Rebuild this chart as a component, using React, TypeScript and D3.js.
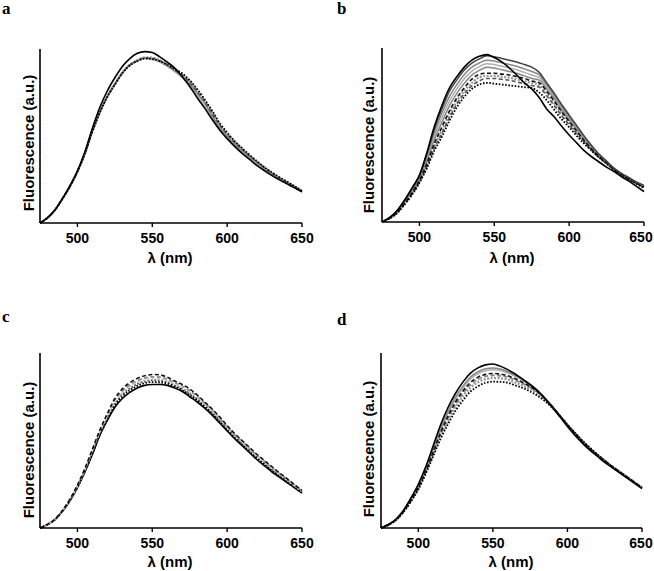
import React from "react";
import * as d3 from "d3";

const wavelengths = [475,480,485,490,495,500,505,510,515,520,525,530,535,540,545,550,555,560,565,570,575,580,585,590,595,600,605,610,615,620,625,630,635,640,645,650];
const xTicks = [500, 550, 600, 650];
const panelLetters = ["a", "b", "c", "d"];

// Panel a
const a1 = [0,.03,.075,.14,.215,.30,.41,.545,.665,.76,.835,.90,.945,.975,.985,.98,.955,.925,.89,.84,.785,.72,.66,.595,.535,.485,.44,.40,.365,.33,.30,.272,.248,.225,.202,.18];
const a2 = [0,.03,.075,.14,.21,.295,.40,.53,.64,.73,.80,.865,.91,.935,.95,.945,.93,.905,.875,.845,.80,.745,.69,.615,.55,.50,.455,.415,.38,.345,.31,.28,.255,.23,.205,.18];
const a3 = [0,.03,.074,.138,.208,.292,.396,.525,.635,.725,.795,.86,.905,.93,.945,.94,.925,.90,.87,.835,.79,.735,.675,.605,.545,.495,.45,.41,.375,.34,.307,.278,.253,.228,.203,.178];
const a4 = [0,.03,.075,.14,.21,.295,.40,.528,.637,.727,.797,.862,.907,.932,.948,.945,.932,.908,.88,.85,.807,.755,.70,.628,.563,.51,.463,.423,.386,.35,.316,.285,.259,.234,.208,.183];
const a5 = [0,.03,.075,.14,.21,.295,.40,.53,.64,.73,.80,.865,.91,.935,.952,.95,.935,.912,.885,.855,.815,.762,.705,.635,.57,.515,.468,.427,.39,.353,.318,.288,.261,.236,.21,.185];
const a6 = [0,.03,.075,.14,.21,.295,.40,.525,.635,.725,.795,.86,.905,.93,.945,.942,.93,.91,.885,.86,.82,.77,.71,.645,.575,.52,.47,.43,.39,.355,.32,.29,.262,.238,.212,.185];

// Panel b
const b1 = [0,.025,.065,.125,.195,.27,.40,.55,.67,.77,.835,.89,.93,.952,.962,.945,.92,.885,.845,.80,.765,.715,.65,.605,.55,.50,.455,.41,.375,.345,.315,.29,.26,.235,.205,.175];
const b2 = [0,.025,.063,.122,.19,.265,.39,.535,.65,.75,.817,.873,.913,.937,.955,.95,.94,.93,.92,.905,.89,.86,.80,.74,.675,.615,.555,.495,.44,.39,.35,.31,.28,.255,.23,.21];
const b3 = [0,.024,.061,.119,.185,.26,.38,.515,.625,.72,.79,.848,.89,.914,.93,.925,.915,.905,.895,.88,.865,.845,.79,.73,.665,.605,.545,.487,.433,.385,.345,.306,.276,.251,.226,.206];
const b4 = [0,.023,.059,.115,.179,.252,.364,.494,.598,.694,.765,.823,.867,.893,.91,.905,.895,.885,.875,.86,.845,.83,.778,.72,.655,.597,.537,.48,.428,.38,.342,.304,.274,.249,.224,.204];
const b5 = [0,.022,.057,.112,.173,.245,.35,.474,.571,.667,.739,.797,.844,.871,.89,.885,.875,.865,.855,.84,.825,.815,.765,.708,.645,.588,.53,.474,.424,.377,.34,.303,.273,.248,.223,.203];
const b6 = [0,.022,.056,.108,.167,.239,.336,.452,.545,.637,.713,.771,.821,.849,.855,.855,.85,.845,.835,.825,.81,.80,.752,.695,.634,.578,.522,.469,.42,.377,.34,.303,.273,.248,.223,.202];
const b7 = [0,.021,.054,.105,.163,.234,.328,.438,.526,.618,.695,.754,.798,.832,.84,.84,.835,.83,.82,.81,.80,.79,.74,.684,.624,.569,.515,.463,.416,.374,.338,.302,.272,.247,.222,.20];
const b8 = [0,.021,.052,.103,.159,.229,.319,.424,.508,.599,.678,.737,.782,.811,.825,.825,.82,.815,.805,.795,.785,.775,.725,.67,.61,.559,.507,.458,.412,.372,.337,.301,.271,.246,.221,.198];
const b9 = [0,.02,.05,.10,.155,.225,.31,.41,.49,.58,.66,.72,.765,.79,.80,.795,.79,.785,.78,.775,.77,.745,.70,.645,.59,.545,.495,.45,.41,.37,.335,.30,.27,.245,.22,.195];

// Panel c
const c1 = [0,.02,.05,.10,.165,.245,.34,.45,.56,.655,.74,.795,.83,.855,.87,.877,.875,.862,.84,.82,.795,.76,.72,.68,.635,.585,.54,.50,.46,.42,.385,.35,.315,.282,.248,.215];
const c2 = [0,.02,.05,.099,.163,.242,.336,.445,.553,.645,.728,.782,.817,.842,.857,.864,.862,.85,.83,.81,.785,.752,.713,.673,.628,.579,.534,.494,.454,.414,.379,.344,.31,.278,.244,.212];
const c3 = [0,.02,.049,.098,.161,.239,.332,.44,.548,.638,.72,.773,.808,.833,.848,.855,.853,.842,.823,.803,.776,.745,.706,.667,.622,.574,.529,.489,.449,.41,.375,.34,.306,.274,.241,.21];
const c4 = [0,.02,.049,.097,.159,.236,.328,.433,.542,.63,.71,.763,.798,.823,.838,.845,.843,.833,.815,.795,.768,.737,.699,.66,.615,.568,.523,.483,.443,.404,.369,.334,.301,.27,.237,.206];
const c5 = [0,.02,.048,.096,.157,.233,.324,.427,.536,.622,.70,.752,.787,.812,.828,.834,.832,.825,.808,.788,.76,.73,.693,.653,.608,.562,.517,.477,.437,.398,.363,.328,.296,.265,.234,.203];
const c6 = [0,.02,.048,.095,.155,.23,.32,.42,.53,.615,.69,.74,.775,.80,.815,.82,.82,.815,.80,.78,.75,.72,.685,.645,.60,.555,.51,.47,.43,.39,.355,.32,.29,.26,.23,.20];

// Panel d
const d1 = [0,.02,.05,.10,.17,.25,.35,.47,.59,.69,.77,.835,.885,.915,.932,.937,.925,.905,.88,.85,.82,.785,.74,.69,.635,.58,.53,.485,.445,.41,.375,.345,.315,.285,.255,.225];
const d2 = [0,.02,.049,.098,.165,.243,.34,.455,.57,.668,.748,.812,.862,.893,.91,.915,.908,.893,.872,.846,.818,.784,.742,.694,.641,.588,.538,.493,.453,.417,.382,.351,.321,.291,.26,.229];
const d3v = [0,.019,.048,.096,.162,.238,.333,.445,.558,.655,.735,.80,.85,.882,.899,.905,.9,.886,.866,.842,.815,.782,.741,.694,.642,.589,.539,.494,.454,.418,.383,.352,.322,.292,.261,.23];
const d4 = [0,.019,.047,.094,.158,.233,.325,.435,.545,.64,.72,.783,.832,.862,.878,.883,.88,.87,.853,.832,.808,.778,.739,.693,.642,.59,.54,.495,.455,.419,.384,.352,.322,.292,.261,.23];
const d5 = [0,.019,.046,.093,.155,.229,.32,.427,.535,.628,.707,.77,.818,.85,.866,.872,.87,.862,.845,.826,.803,.774,.736,.691,.641,.59,.541,.496,.456,.42,.385,.352,.322,.292,.261,.23];
const d6 = [0,.018,.046,.092,.153,.225,.316,.42,.525,.615,.692,.754,.802,.833,.85,.857,.855,.848,.832,.815,.794,.767,.731,.688,.64,.59,.542,.497,.457,.421,.386,.352,.322,.292,.261,.23];
const d7 = [0,.018,.045,.09,.15,.22,.31,.41,.51,.595,.67,.73,.78,.81,.83,.836,.835,.83,.815,.80,.78,.755,.725,.685,.64,.59,.545,.50,.46,.42,.385,.35,.32,.29,.26,.23];

type Style = { color: string; dash?: string; width?: number };
const SOLID_K: Style = { color: "#000", width: 1.6 };
const SOLID_DG: Style = { color: "#444", width: 1.5 };
const SOLID_G: Style = { color: "#888", width: 1.5 };
const SOLID_LG: Style = { color: "#b0b0b0", width: 1.5 };
const DASH_K: Style = { color: "#111", dash: "4,2.5", width: 1.6 };
const DASH_G: Style = { color: "#888", dash: "4,2.5", width: 1.8 };
const DASH_DG: Style = { color: "#555", dash: "4,2.5", width: 1.6 };
const DASH_LG: Style = { color: "#c8c8c8", dash: "3,2", width: 1.4 };
const DOT_K: Style = { color: "#000", dash: "1.6,1.6", width: 1.8 };
const DOT_G: Style = { color: "#999", dash: "2,1.5", width: 2.4 };
const DOT_DG: Style = { color: "#666", dash: "2,1.5", width: 2 };

type Panel = {
  letter: string; x0: number; x1: number; yTop: number; yBot: number;
  lx: number; ly: number; ylabX: number; ylabY: number; xtitX: number; xtitY: number;
  series: { v: number[]; s: Style }[];
};

const panels: Panel[] = [
  { letter: panelLetters[0], x0: 40, x1: 302, yTop: 49, yBot: 223, lx: 2, ly: 14, ylabX: 28, ylabY: 143, xtitX: 170, xtitY: 257,
    series: [{ v: a3, s: SOLID_LG }, { v: a2, s: SOLID_G }, { v: a5, s: DOT_G }, { v: a4, s: DASH_DG }, { v: a6, s: DOT_K }, { v: a1, s: SOLID_K }] },
  { letter: panelLetters[1], x0: 382, x1: 644, yTop: 48, yBot: 222, lx: 337, ly: 14, ylabX: 368, ylabY: 145, xtitX: 512, xtitY: 257,
    series: [{ v: b4, s: SOLID_LG }, { v: b3, s: SOLID_G }, { v: b5, s: SOLID_G }, { v: b7, s: DOT_G }, { v: b8, s: DASH_DG }, { v: b6, s: DASH_K }, { v: b9, s: DOT_K }, { v: b2, s: SOLID_DG }, { v: b1, s: SOLID_K }] },
  { letter: panelLetters[2], x0: 40, x1: 302, yTop: 353, yBot: 528, lx: 2, ly: 322, ylabX: 28, ylabY: 450, xtitX: 170, xtitY: 561,
    series: [{ v: c6, s: SOLID_K }, { v: c4, s: DOT_DG }, { v: c2, s: DASH_G }, { v: c5, s: DOT_K }, { v: c3, s: DASH_LG }, { v: c1, s: DASH_K }] },
  { letter: panelLetters[3], x0: 381, x1: 642, yTop: 353, yBot: 528, lx: 337, ly: 325, ylabX: 368, ylabY: 449, xtitX: 511, xtitY: 561,
    series: [{ v: d3v, s: SOLID_LG }, { v: d2, s: SOLID_G }, { v: d6, s: DOT_G }, { v: d5, s: DASH_G }, { v: d4, s: DASH_K }, { v: d7, s: DOT_K }, { v: d1, s: SOLID_K }] },
];

const sans = "'Liberation Sans', Arial, Helvetica, sans-serif";
const serif = "'Liberation Serif', 'Times New Roman', serif";

function PanelView({ p }: { p: Panel }) {
  const x = d3.scaleLinear().domain([475, 650]).range([p.x0, p.x1]);
  const y = d3.scaleLinear().domain([0, 1]).range([p.yBot, p.yTop]);
  const line = d3.line<number>()
    .x((_, i) => x(wavelengths[i]))
    .y((d) => y(d))
    .curve(d3.curveMonotoneX);
  return (
    <g>
      <text x={p.lx} y={p.ly} fontFamily={serif} fontWeight="bold" fontSize={17}>{p.letter}</text>
      {p.series.map((s, i) => (
        <path key={i} d={line(s.v) || ""} fill="none" stroke={s.s.color} strokeWidth={s.s.width || 1.5}
          strokeDasharray={s.s.dash} strokeLinejoin="round" />
      ))}
      <line x1={p.x0} x2={p.x0} y1={y(1)} y2={y(0)} stroke="#000" strokeWidth={1.6} />
      <line x1={p.x0} x2={p.x1} y1={y(0)} y2={y(0)} stroke="#000" strokeWidth={1.6} />
      {xTicks.map((t) => (
        <g key={t}>
          <line x1={x(t)} x2={x(t)} y1={y(0)} y2={y(0) + 4} stroke="#000" strokeWidth={1.4} />
          <text x={Math.min(x(t), 641)} y={p.yBot + 20} textAnchor="middle" fontFamily={sans} fontWeight="bold" fontSize={14}>{t}</text>
        </g>
      ))}
      <text x={p.xtitX} y={p.xtitY} textAnchor="middle" dominantBaseline="central" fontFamily={sans} fontWeight="bold" fontSize={15}>λ (nm)</text>
      <text transform={`translate(${p.ylabX},${p.ylabY}) rotate(-90)`} textAnchor="middle" dominantBaseline="central"
        fontFamily={sans} fontWeight="bold" fontSize={15}>Fluorescence (a.u.)</text>
    </g>
  );
}

export default function App() {
  return (
    <svg width={654} height={571} style={{ position: "absolute", left: 0, top: 0, background: "#fff" }}>
      <rect width={654} height={571} fill="#fff" />
      {panels.map((p) => <PanelView key={p.letter} p={p} />)}
    </svg>
  );
}
